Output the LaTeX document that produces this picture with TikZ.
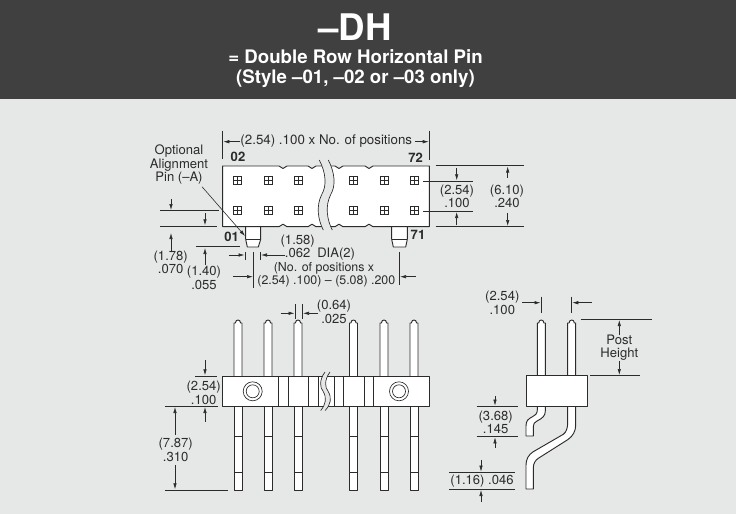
\documentclass[tikz,border=0pt]{standalone}
\usepackage{fontspec}
\setmainfont{TeX Gyre Heros}
\usetikzlibrary{arrows.meta}
\definecolor{panelgrey}{HTML}{E6E8E7}
\definecolor{bannergrey}{HTML}{404040}
\definecolor{inkgrey}{HTML}{2B2B2B}
% small dip in the edge of the housing
\newcommand{\notch}[2]{.. controls +(#1,0) and +(-1*#1,0) .. ++(2*#1,#2) .. controls +(#1,0) and +(-1*#1,0) .. ++(2*#1,-1*#2)}
\tikzset{
  partline/.style={draw=inkgrey,line width=0.7pt,line join=round,fill=white},
  thinline/.style={draw=inkgrey,line width=0.5pt},
  dimtext/.style={font=\fontsize{9.8}{10.1}\selectfont,text=inkgrey,align=center,inner sep=0pt},
  tighttext/.style={font=\fontsize{9.3}{10.1}\selectfont},
  boldtext/.style={font=\fontsize{9.8}{10.1}\selectfont\bfseries},
  padbox/.style={rectangle,draw=inkgrey,line width=0.5pt,fill=white,minimum size=6pt,inner sep=0pt,
    path picture={\draw[line width=0.35pt] (path picture bounding box.north) -- (path picture bounding box.south)
      (path picture bounding box.west) -- (path picture bounding box.east);}},
  pinpost/.pic={
    \draw[partline] (-4,376) -- (-4,323) -- (-2.6,323) .. controls (-2.6,319) and (2.6,319) .. (2.6,323) -- (4,323) -- (4,376);
  },
  pinlead/.pic={
    \draw[partline] (-4,406) -- (-4,490) -- (4,490) -- (4,406);
    \draw[partline] (-4,436) -- (4,436) (-4,472.7) -- (4,472.7);
  }
}
\begin{document}
\begin{tikzpicture}[x=0.75pt,y=-0.75pt]
        \useasboundingbox (0,0) rectangle (736,514);
        \fill[panelgrey] (0,0) rectangle (736,514);
        \fill[bannergrey] (0,0) rectangle (736,99);

        \begin{scope}[every node/.style={text=white,inner sep=0pt,anchor=base}]
        \node[font=\fontsize{27.5}{28}\selectfont\bfseries] (code) at (355,40.7) {–DH};
        \node[font=\fontsize{14}{15}\selectfont\bfseries] (title) at (355.5,63.3) {= Double Row Horizontal Pin};
        \node[font=\fontsize{14}{15}\selectfont\bfseries] (style) at (355.5,83) {(Style –01, –02 or –03 only)};
        \end{scope}

        % top view
        \draw[partline] (245.7,226.7) -- (245.7,239.3) -- (247.3,247) -- (258.3,247) -- (260.7,239.3) -- (260.7,226.7);
        \draw[partline] (245.7,239.3) -- (260.7,239.3);
        \draw[partline] (391.7,226.7) -- (391.7,239.3) -- (393.3,247) -- (405.7,247) -- (407.3,239.3) -- (407.3,226.7);
        \draw[partline] (391.7,239.3) -- (407.3,239.3);
        \draw[partline] (222.7,166) -- (279,166) \notch{2}{2.5} -- (308,166) \notch{2}{2.5} -- (335,166) \notch{2}{2.5}
          -- (365,166) \notch{2}{2.5} -- (429.3,166) -- (429.3,226.7) -- (373,226.7) \notch{-2}{-2.5}
          -- (343,226.7) \notch{-2}{-2.5} -- (316,226.7) \notch{-2}{-2.5} -- (287,226.7) \notch{-2}{-2.5} -- (222.7,226.7) -- cycle;
        \fill[panelgrey] (319.3,160) .. controls (326,173) and (327,186) .. (321.5,195) .. controls (316,206) and (318,220) .. (323.3,230)
          -- (332.3,230) .. controls (327,220) and (325,206) .. (330.5,195) .. controls (336,186) and (335,173) .. (328.3,160) -- cycle;
        \draw[thinline] (319.3,160) .. controls (326,173) and (327,186) .. (321.5,195) .. controls (316,206) and (318,220) .. (323.3,230);
        \draw[thinline] (328.3,160) .. controls (335,173) and (336,186) .. (330.5,195) .. controls (325,206) and (327,220) .. (332.3,230);

        \node[padbox] (p11) at (237.7,180.3) {};
        \node[padbox] (p12) at (268,180.3) {};
        \node[padbox] (p13) at (298,180.3) {};
        \node[padbox] (p14) at (353.7,180.3) {};
        \node[padbox] (p15) at (384,180.3) {};
        \node[padbox] (p16) at (414,180.3) {};
        \node[padbox] (p21) at (237.7,210.7) {};
        \node[padbox] (p22) at (268,210.7) {};
        \node[padbox] (p23) at (298,210.7) {};
        \node[padbox] (p24) at (353.7,210.7) {};
        \node[padbox] (p25) at (384,210.7) {};
        \node[padbox] (p26) at (414,210.7) {};

        % front view
        \pic at (238,0) {pinpost};
        \pic at (268,0) {pinpost};
        \pic at (298,0) {pinpost};
        \pic at (353.5,0) {pinpost};
        \pic at (384,0) {pinpost};
        \pic at (414,0) {pinpost};
        \pic at (238,0) {pinlead};
        \pic at (268,0) {pinlead};
        \pic at (298,0) {pinlead};
        \pic at (353.5,0) {pinlead};
        \pic at (384,0) {pinlead};
        \pic at (414,0) {pinlead};
        \draw[partline] (222.3,376) rectangle (429.3,406.3);
        \draw[thinline] (278.7,376) -- (278.7,406.3) (288.3,376) -- (288.3,406.3) (308.5,376) -- (308.5,406.3) (318.3,376) -- (318.3,406.3)
          (334.3,376) -- (334.3,406.3) (343.3,376) -- (343.3,406.3) (364.3,376) -- (364.3,406.3) (373.7,376) -- (373.7,406.3);
        \fill[panelgrey] (325,372) .. controls (319,380) and (320,388) .. (323,391) .. controls (327,398) and (326,404) .. (320.7,410.5)
          -- (325.2,410.5) .. controls (331,404) and (332,398) .. (328,391) .. controls (325,388) and (324,380) .. (330,372) -- cycle;
        \draw[thinline] (325,372) .. controls (319,380) and (320,388) .. (323,391) .. controls (327,398) and (326,404) .. (320.7,410.5);
        \draw[thinline] (330,372) .. controls (324,380) and (325,388) .. (328,391) .. controls (332,398) and (331,404) .. (325.2,410.5);
        \draw[thinline,fill=white] (252.7,391.3) circle [radius=9.5];
        \draw[thinline,fill=white] (252.7,391.3) circle [radius=6.5];
        \draw[thinline,fill=white] (399,391.3) circle [radius=9.5];
        \draw[thinline,fill=white] (399,391.3) circle [radius=6.5];

        % side view
        \pic at (541.3,0) {pinpost};
        \pic at (571.7,0) {pinpost};
        \draw[partline] (537.3,406.3) -- (537.3,410) .. controls (537.3,414) and (535,415.5) .. (532,417) .. controls (528,419) and (526,421) .. (526,426)
          -- (526,436) -- (533.3,436) -- (533.3,426.5) .. controls (533.3,423.5) and (534.5,422.5) .. (537,421) .. controls (543,418) and (545.3,415.5) .. (545.3,411) -- (545.3,406.3);
        \draw[partline] (567.7,406.3) -- (567.7,423.3) .. controls (567.7,428) and (566,432.5) .. (563.3,434.3) -- (533.3,451.7)
          .. controls (528.5,454.5) and (526,459.5) .. (526,465) -- (526,489) -- (533.3,489) -- (533.3,467.7)
          .. controls (533.3,463.5) and (535.5,460) .. (538.3,458.3) -- (568,439.5) .. controls (573,436) and (575.7,431) .. (575.7,425) -- (575.7,406.3);
        \draw[partline] (526,375.7) rectangle (587,406.3);

        % extension lines
        \begin{scope}[every edge/.style={draw=inkgrey,line width=0.5pt}]
        \path (222.7,130.7) edge (222.7,159.3);
        \path (429.3,130.7) edge (429.3,160);
        \path (160,210.7) edge (219,210.7);
        \path (160,226) edge (217,226);
        \path (196,246.7) edge (240,246.7);
        \path (245,252) edge (245,260);
        \path (260.5,252) edge (260.5,260);
        \path (253.5,252) edge (253.5,288);
        \path (399.3,252) edge (399.3,285);
        \path (435.7,165.7) edge (524,165.7);
        \path (435.7,226.7) edge (524,226.7);
        \path (423,181) edge (472.7,181);
        \path (423,211.3) edge (472.7,211.3);
        \path (295,304) edge (295,319);
        \path (302.3,304) edge (302.3,319);
        \path (195,376) edge (217,376);
        \path (165,406.3) edge (218.3,406.3);
        \path (165,490) edge (228,490);
        \path (541,296.7) edge (541,313.3);
        \path (571.7,296.7) edge (571.7,313.3);
        \path (580.7,319.3) edge (652.3,319.3);
        \path (590.3,375.7) edge (640,375.7);
        \path (476.7,406.3) edge (517.7,406.3);
        \path (476.7,436.7) edge (517.7,436.7);
        \path (449,472.3) edge (515,472.3);
        \path (449,489.3) edge (515,489.3);
        \end{scope}

        % dimension arrows
        \begin{scope}[every edge/.style={draw=inkgrey,line width=0.45pt,-{Latex[length=4.5pt,width=2.6pt]}}]
        \path (240,141.7) edge (223.3,141.7);
        \path (415,141.7) edge (428.7,141.7);
        \path (202,186.7) edge (245,236);
        \path (171,199) edge (171,210);
        \path (171,252) edge (171,233);
        \path (205,213) edge (205,225.3);
        \path (205,265) edge (205,248);
        \path (229,255) edge (244.5,255);
        \path (285,255) edge (261,255);
        \path (233,276.7) edge (253,276.7);
        \path (416,276.7) edge (400,276.7);
        \path (456.7,168) edge (456.7,180.3);
        \path (456.7,225) edge (456.7,212);
        \path (507.7,178) edge (507.7,166.5);
        \path (507.7,213) edge (507.7,226);
        \path (280.7,313.3) edge (294.5,313.3);
        \path (318.3,313.3) edge (303,313.3);
        \path (205,360) edge (205,375.3);
        \path (205,421.7) edge (205,407);
        \path (175,435) edge (175,407);
        \path (175,465) edge (175,489.3);
        \path (522.3,302.7) edge (540.5,302.7);
        \path (591.7,302.7) edge (572.3,302.7);
        \path (619.3,335) edge (619.3,320);
        \path (619.3,361) edge (619.3,375);
        \path (495,396) edge (495,405.6);
        \path (495,448) edge (495,437.4);
        \path (481,460) edge (481,471.6);
        \path (481,502) edge (481,490);
        \end{scope}

        % labels
        \begin{scope}[every node/.style={dimtext}]
        \node[font=\fontsize{10}{10.1}\selectfont] (span) at (326.3,141.5) {(2.54) .100 x No. of positions};
        \node (alignpin) at (179,164.7) {Optional\\Alignment\\Pin (–A)};
        \node[boldtext] (n02) at (238,157) {02};
        \node[boldtext] (n72) at (415.7,158) {72};
        \node[boldtext] (n01) at (231.7,236.7) {01};
        \node[boldtext] (n71) at (418,234.5) {71};
        \node (d178) at (170.7,262.5) {(1.78)\\.070};
        \node (d140) at (204,278) {(1.40)\\.055};
        \node (d158) at (297.7,240.7) {(1.58)};
        \node (d062) at (320,254) {.062\hspace{0.25em} DIA(2)};
        \node[tighttext] (dno) at (324,268) {(No. of positions x};
        \node[tighttext] (dlen) at (326.3,281.7) {(2.54) .100) – (5.08) .200};
        \node (d254a) at (457,196.3) {(2.54)\\.100};
        \node (d610) at (507,196.3) {(6.10)\\.240};
        \node (d064) at (334,312) {(0.64)\\.025};
        \node (d254b) at (203.7,393) {(2.54)\\.100};
        \node (d787) at (175.7,450) {(7.87)\\.310};
        \node (d254c) at (502.3,302.7) {(2.54)\\.100};
        \node (dpost) at (619.3,347.5) {Post\\Height};
        \node (d368) at (495.7,422.3) {(3.68)\\.145};
        \node (d116) at (482,481) {(1.16) .046};
        \end{scope}
        \end{tikzpicture}
\end{document}
